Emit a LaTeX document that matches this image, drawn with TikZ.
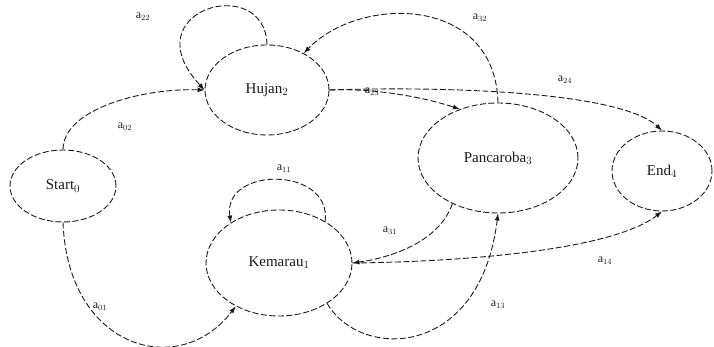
\documentclass[tikz,border=0pt]{standalone}
\usepackage{fontspec}
\setmainfont{Liberation Serif}
\usepackage{xcolor}
\definecolor{ink}{HTML}{1A1A1A}
\usepackage{tikz}
\usetikzlibrary{arrows.meta,shapes.geometric}
\tikzset{
  >=Latex,
  state/.style={ellipse,draw=ink,line width=0.9pt,dash pattern=on 6pt off 2.5pt,
                inner sep=0pt,font=\fontsize{15}{17}\selectfont,text=ink},
  trans/.style={-{Latex[length=7pt,width=5pt]},line width=0.9pt,draw=ink,
                dash pattern=on 6pt off 2.5pt},
  lbl/.style={font=\fontsize{12}{14}\selectfont,text=ink,inner sep=1pt},
}

\begin{document}
\begin{tikzpicture}[x=1pt,y=1pt]
  \useasboundingbox (0,0) rectangle (714,-347);

  \node[state,minimum width=106pt,minimum height=72pt] (start) at (63,-186) {Start$_0$};
  \node[state,minimum width=124pt,minimum height=90pt] (hujan) at (267,-90) {Hujan$_2$};
  \node[state,minimum width=160pt,minimum height=110pt] (pancaroba) at (498,-158) {Pancaroba$_3$};
  \node[state,minimum width=100pt,minimum height=80pt] (endst) at (662,-171) {End$_4$};
  \node[state,minimum width=146pt,minimum height=106pt] (kemarau) at (279,-263) {Kemarau$_1$};

  % loops
  \draw[trans] (hujan.north) .. controls (265,28) and (130,-10) .. (hujan.west);
  \draw[trans] (kemarau.42) .. controls (332,-166) and (222,-166) .. (kemarau.140);

  % from start
  \draw[trans] (start.north) .. controls (63,-110) and (140,-88) .. (hujan.west);
  \draw[trans] (start.south) .. controls (68,-350) and (180,-380) .. (kemarau.225);

  % from hujan
  \draw[trans] (hujan.east) .. controls (370,-88) and (420,-96) .. (pancaroba.128);
  \draw[trans] (hujan.east) .. controls (450,-86) and (620,-92) .. (endst.north);

  % from pancaroba
  \draw[trans] (pancaroba.north) .. controls (495,5) and (360,5) .. (hujan.45);
  \draw[trans] (pancaroba.225) .. controls (440,-240) and (395,-257) .. (kemarau.east);

  % from kemarau
  \draw[trans] (kemarau.-40) .. controls (360,-360) and (480,-360) .. (pancaroba.south);
  \draw[trans] (kemarau.east) .. controls (450,-262) and (610,-252) .. (endst.south);

  % labels
  \node[lbl] (l22) at (143,-17) {a$_{22}$};
  \node[lbl] (l02) at (125,-127) {a$_{02}$};
  \node[lbl] (l32) at (480,-18) {a$_{32}$};
  \node[lbl] (l23) at (372,-92) {a$_{23}$};
  \node[lbl] (l24) at (565,-80) {a$_{24}$};
  \node[lbl] (l11) at (284,-169) {a$_{11}$};
  \node[lbl] (l31) at (390,-231) {a$_{31}$};
  \node[lbl] (l13) at (498,-305) {a$_{13}$};
  \node[lbl] (l14) at (605,-261) {a$_{14}$};
  \node[lbl] (l01) at (100,-307) {a$_{01}$};
\end{tikzpicture}
\end{document}
